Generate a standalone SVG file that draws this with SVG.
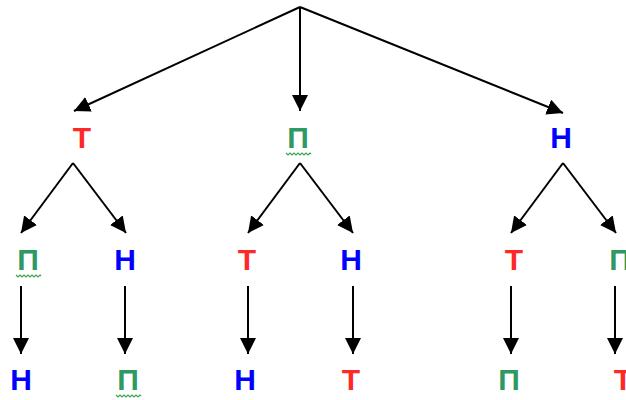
<svg xmlns="http://www.w3.org/2000/svg" width="626" height="400" viewBox="0 0 626 400">
<style>
  .lbl { font-family: "Liberation Sans", Arial, sans-serif; font-weight: bold; font-size: 30px; text-anchor: middle; }
  .t { fill: #ff2828; }
  .p { fill: #2e9962; }
  .n { fill: #0000ff; }
  .edge { stroke: #000; stroke-width: 2; fill: none; marker-end: url(#arr); }
  .sq { stroke: #3aa64a; stroke-width: 1.2; fill: none; }
</style>
<defs>
  <marker id="arr" markerUnits="userSpaceOnUse" markerWidth="16" markerHeight="16" refX="16" refY="8" orient="auto" viewBox="0 0 16 16">
    <path d="M0,0 L16,8 L0,16 z" fill="#000"/>
  </marker>
  <path id="squig" d="M0,0 l2,2 l2,-2 l2,2 l2,-2 l2,2 l2,-2 l2,2 l2,-2 l2,2 l2,-2 l2,2 l2,-2 l1,1"/>
</defs>
<rect width="626" height="400" fill="#fff"/>
<g id="connectors">
  <line class="edge" x1="300" y1="7" x2="74" y2="111"/>
  <line class="edge" x1="300" y1="7" x2="300" y2="111"/>
  <line class="edge" x1="300" y1="7" x2="563" y2="113"/>
  <line class="edge" x1="73" y1="163" x2="21" y2="233"/>
  <line class="edge" x1="73" y1="163" x2="126" y2="233"/>
  <line class="edge" x1="300" y1="163" x2="248" y2="233"/>
  <line class="edge" x1="300" y1="163" x2="353" y2="233"/>
  <line class="edge" x1="563" y1="163" x2="511" y2="233"/>
  <line class="edge" x1="563" y1="163" x2="616" y2="233"/>
  <line class="edge" x1="21" y1="286" x2="21" y2="354"/>
  <line class="edge" x1="125" y1="286" x2="125" y2="354"/>
  <line class="edge" x1="248" y1="286" x2="248" y2="354"/>
  <line class="edge" x1="353" y1="286" x2="353" y2="354"/>
  <line class="edge" x1="511" y1="286" x2="511" y2="354"/>
  <line class="edge" x1="615" y1="286" x2="615" y2="354"/>
</g>
<g id="n1"><text class="lbl t" x="82" y="148">Т</text></g>
<g id="n2"><text class="lbl p" x="298" y="148">П</text><use class="sq" href="#squig" x="286" y="153"/></g>
<g id="n3"><text class="lbl n" x="561" y="148">Н</text></g>
<g id="n11"><text class="lbl p" x="28" y="270">П</text><use class="sq" href="#squig" x="16" y="275"/></g>
<g id="n12"><text class="lbl n" x="125" y="270">Н</text></g>
<g id="n21"><text class="lbl t" x="247" y="270">Т</text></g>
<g id="n22"><text class="lbl n" x="351" y="270">Н</text></g>
<g id="n31"><text class="lbl t" x="514" y="270">Т</text></g>
<g id="n32"><text class="lbl p" x="620" y="270">П</text></g>
<g id="n111"><text class="lbl n" x="21" y="390">Н</text></g>
<g id="n121"><text class="lbl p" x="128" y="390">П</text><use class="sq" href="#squig" x="116" y="395"/></g>
<g id="n211"><text class="lbl n" x="245" y="390">Н</text></g>
<g id="n221"><text class="lbl t" x="351" y="390">Т</text></g>
<g id="n311"><text class="lbl p" x="509" y="390">П</text></g>
<g id="n321"><text class="lbl t" x="623" y="390">Т</text></g>
</svg>
